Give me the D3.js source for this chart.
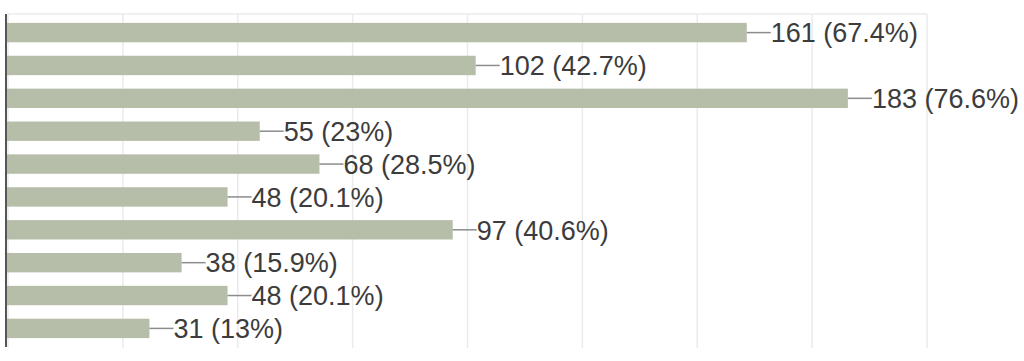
<!DOCTYPE html>
<html>
<head>
<meta charset="utf-8">
<script src="https://cdn.jsdelivr.net/npm/d3@7"></script>
<style>
  html, body { margin: 0; padding: 0; background: #fff; }
  svg { display: block; }
</style>
</head>
<body>
<svg id="chart" width="1024" height="361"></svg>
<script>
const categories = ["A", "B", "C", "D", "E", "F", "G", "H", "I", "J"];
const counts = [161, 102, 183, 55, 68, 48, 97, 38, 48, 31];
const percents = ["67.4%", "42.7%", "76.6%", "23%", "28.5%", "20.1%", "40.6%", "15.9%", "20.1%", "13%"];
const xTicks = [0, 25, 50, 75, 100, 125, 150, 175, 200];

(function () {
const svg = d3.select("#chart");
const mLeft = 7, mRight = 926, mTop = 14, mBottom = 348;

const x = d3.scaleLinear().domain([0, 200]).range([mLeft, mRight]);
const y = d3.scaleBand().domain(categories).range([16, 345]).paddingInner(0.41).paddingOuter(0.21);

// gridlines
svg.append("g").selectAll("line").data(xTicks).join("line")
  .attr("x1", d => x(d) + 1).attr("x2", d => x(d) + 1)
  .attr("y1", mTop).attr("y2", mBottom)
  .attr("stroke", "#ebebeb").attr("stroke-width", 1.5);
svg.append("line")
  .attr("x1", mLeft).attr("x2", mRight + 1).attr("y1", mTop).attr("y2", mTop)
  .attr("stroke", "#ebebeb").attr("stroke-width", 1.5);

// bars
svg.append("g").selectAll("rect").data(categories).join("rect")
  .attr("x", x(0))
  .attr("y", d => y(d))
  .attr("width", (d, i) => x(counts[i]) - x(0))
  .attr("height", y.bandwidth())
  .attr("fill", "#b6bea9");

// leader lines
svg.append("g").selectAll("line").data(categories).join("line")
  .attr("x1", (d, i) => x(counts[i]))
  .attr("x2", (d, i) => x(counts[i]) + 24)
  .attr("y1", d => y(d) + y.bandwidth() / 2)
  .attr("y2", d => y(d) + y.bandwidth() / 2)
  .attr("stroke", "#8c8c8c").attr("stroke-width", 1.5);

// labels
svg.append("g").selectAll("text").data(categories).join("text")
  .attr("x", (d, i) => x(counts[i]) + 24)
  .attr("y", d => y(d) + y.bandwidth() / 2)
  .attr("dy", "0.36em")
  .attr("font-family", "Liberation Sans, Arial, sans-serif")
  .attr("font-size", 27)
  .attr("fill", "#3c3c3c")
  .text((d, i) => `${counts[i]} (${percents[i]})`);

// axis line
svg.append("line")
  .attr("x1", mLeft - 1).attr("x2", mLeft - 1)
  .attr("y1", mTop).attr("y2", mBottom - 1)
  .attr("stroke", "#555").attr("stroke-width", 2);
})();
</script>
</body>
</html>
